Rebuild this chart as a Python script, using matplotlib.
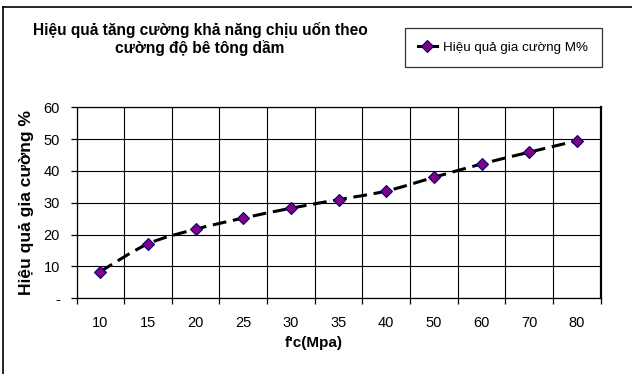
import matplotlib
matplotlib.use('Agg')
import matplotlib.pyplot as plt
import numpy as np
from matplotlib.path import Path
from matplotlib.patches import PathPatch
from matplotlib.lines import Line2D

plt.rcParams['font.family'] = ['Liberation Sans', 'DejaVu Sans']

# Cường độ bê tông dầm và hiệu quả gia cường tương ứng
categories = ['10', '15', '20', '25', '30', '35', '40', '50', '60', '70', '80']
hieu_qua = [8.4, 17.1, 21.7, 25.2, 28.3, 31.0, 33.7, 38.0, 42.2, 45.9, 49.5]
y_ticks = [0, 10, 20, 30, 40, 50, 60]

W, H = 632, 374
fig = plt.figure(figsize=(W / 100, H / 100), dpi=100)
ax = fig.add_axes([76.5 / W, 1 - 298.3 / H, (600.7 - 76.5) / W, (298.3 - 107.3) / H])

x = np.arange(len(categories))
y = np.array(hieu_qua)

# đường cong trơn kiểu Excel (Bezier bậc 3 qua các điểm)
pts = np.column_stack([x, y])
ext = np.vstack([pts[0], pts, pts[-1]])
verts = [tuple(pts[0])]
codes = [Path.MOVETO]
for i in range(len(pts) - 1):
    p0, p1, p2, p3 = ext[i], ext[i + 1], ext[i + 2], ext[i + 3]
    c1 = p1 + (p2 - p0) / 6
    c2 = p2 - (p3 - p1) / 6
    verts += [tuple(c1), tuple(c2), tuple(p2)]
    codes += [Path.CURVE4] * 3
curve = PathPatch(Path(verts, codes), fill=False, edgecolor='black', lw=2.2,
                  linestyle=(0, (4.5, 2.2)), zorder=3, capstyle='butt')
ax.add_patch(curve)
ax.plot(x, y, linestyle='none', marker='D', markersize=6.5,
        markerfacecolor='#800080', markeredgecolor='#000080', markeredgewidth=0.8, zorder=4)

ax.set_xlim(-0.5, len(categories) - 0.5)
ax.set_ylim(0, 60)

# lưới dọc ở ranh giới giữa các hạng mục
ax.set_xticks(x)
ax.set_xticklabels(categories)
ax.set_xticks(np.arange(-0.5, len(categories)), minor=True)
ax.tick_params(axis='x', which='major', length=0, pad=13, labelsize=10.5)
ax.tick_params(axis='x', which='minor', length=4, direction='out', width=0.9)
ax.grid(True, which='minor', axis='x', color='black', lw=0.8)

ax.set_yticks(y_ticks)
ax.set_yticklabels(['-' if v == 0 else str(v) for v in y_ticks])
ax.tick_params(axis='y', length=4, direction='out', width=0.9, pad=8, labelsize=10.5)
ax.grid(True, which='major', axis='y', color='black', lw=0.8)

for s in ax.spines.values():
    s.set_color('black')
    s.set_linewidth(0.9)
ax.spines['right'].set_linewidth(1.6)

ax.set_ylabel('Hiệu quả gia cường %', fontsize=12.5, fontweight='bold', labelpad=7)
fig.text(314 / W, 1 - 343 / H, "f'c(Mpa)", ha='center', va='center',
         fontsize=11, fontweight='bold')

fig.text(200 / W, 1 - 39 / H, 'Hiệu quả tăng cường khả năng chịu uốn theo\ncường độ bê tông dầm',
         ha='center', va='center', fontsize=11.2, fontweight='bold', linespacing=1.2)

# chú thích
handle = Line2D([], [], color='black', lw=2.2, marker='D', markersize=6.5,
                markerfacecolor='#800080', markeredgecolor='#000080', markeredgewidth=0.8)
leg = fig.legend([handle], ['Hiệu quả gia cường M%'], loc='center',
                 bbox_to_anchor=((402 + 604) / 2 / W, 1 - 47.5 / H),
                 frameon=True, fancybox=False, edgecolor='black', fontsize=9.6,
                 handlelength=1.4, handletextpad=0.5, borderpad=1.0, markerscale=1)
leg.get_frame().set_linewidth(0.9)

# khung ngoài của biểu đồ
fig.add_artist(Line2D([3 / W, 3 / W], [0, 1 - 7 / H], color='black', lw=1.2))
fig.add_artist(Line2D([3 / W, 1], [1 - 7 / H, 1 - 7 / H], color='black', lw=1.2))

fig.savefig('out.png', dpi=100)
